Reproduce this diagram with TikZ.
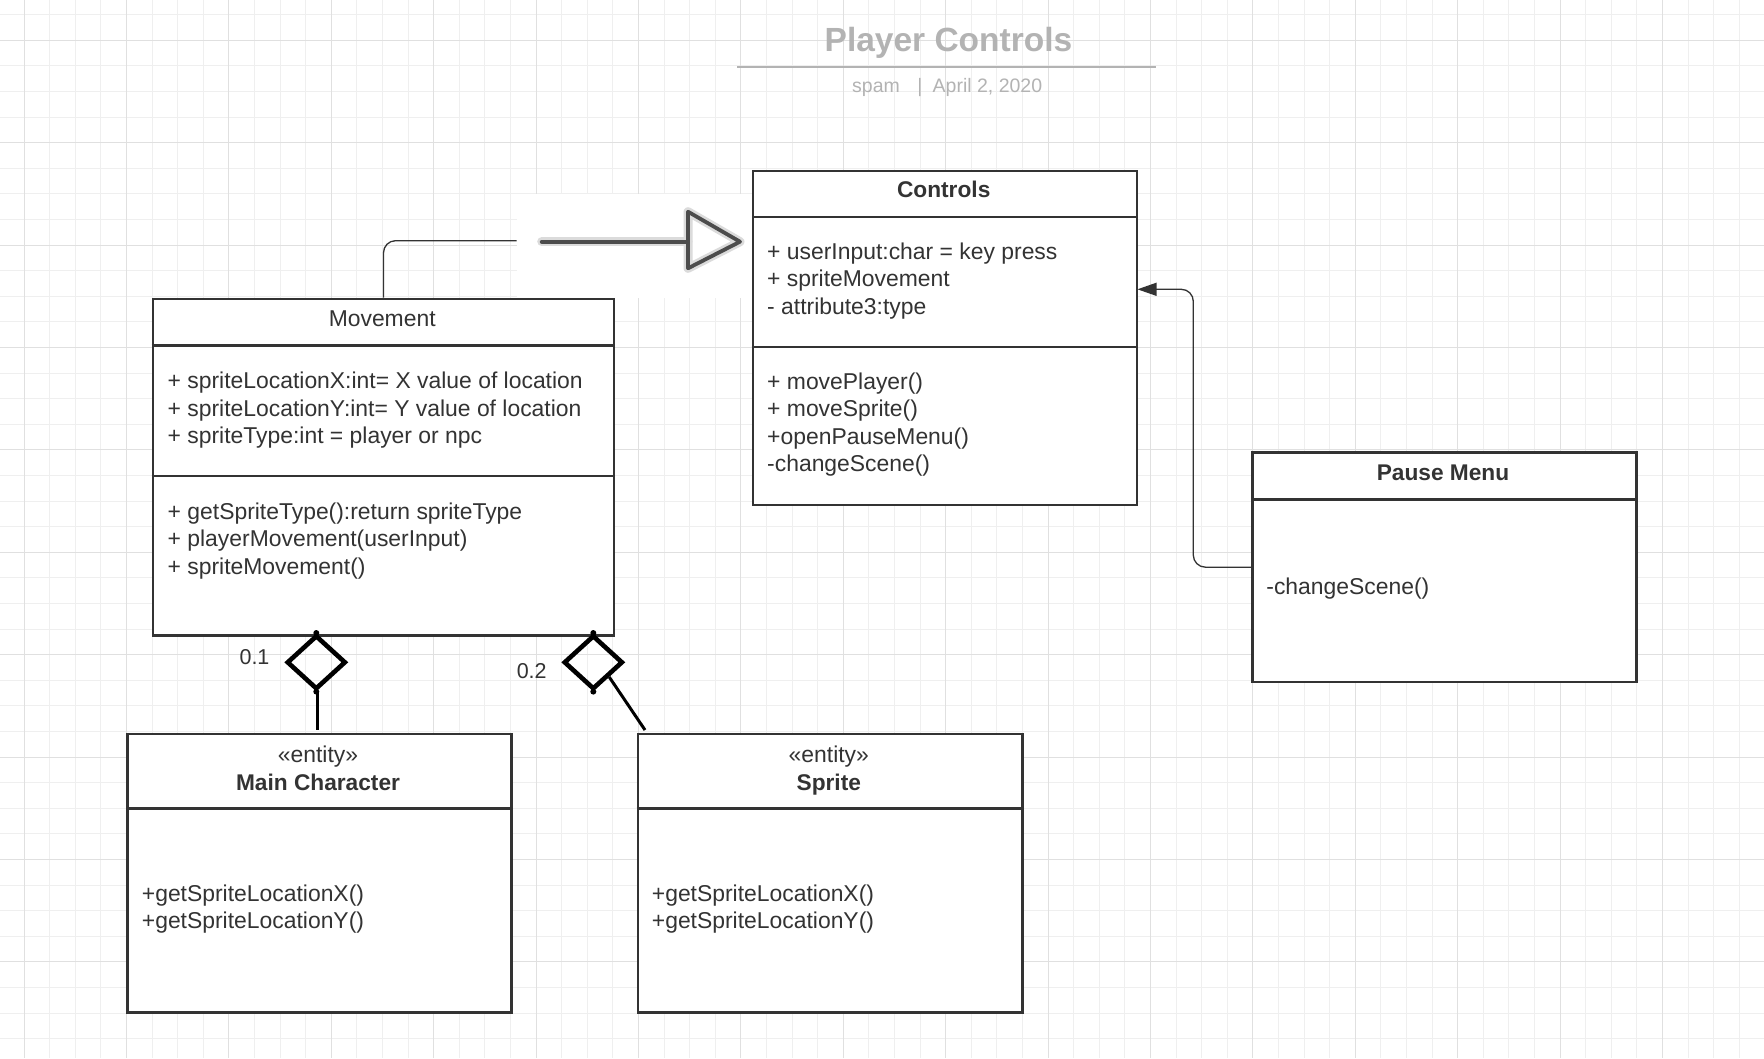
\documentclass[tikz,border=0pt]{standalone}
\usepackage{fontspec}
\setmainfont{Liberation Sans}
\usetikzlibrary{arrows.meta,shapes.geometric}
\definecolor{boxc}{HTML}{333333}
\definecolor{textc}{HTML}{333333}
\definecolor{titlec}{HTML}{B3B3B3}
\definecolor{minorg}{HTML}{EFEFEF}
\definecolor{majorg}{HTML}{E0E0E0}
\tikzset{
  umlbox/.style={draw=boxc, line width=2.6pt, fill=white, inner sep=0pt, anchor=north west},
  divider/.style={draw=boxc, line width=2.4pt},
  txt/.style={anchor=base west, inner sep=0pt, text=textc, font=\fontsize{22.9}{27}\selectfont},
  ttl/.style={anchor=base, inner sep=0pt, text=textc, font=\bfseries\fontsize{22.7}{27}\selectfont},
  ttlplain/.style={anchor=base, inner sep=0pt, text=textc, font=\fontsize{22.9}{27}\selectfont},
  lbl/.style={anchor=base, inner sep=0pt, text=textc, font=\fontsize{21.5}{25}\selectfont},
  conn/.style={draw=boxc, line width=1.3pt},
  aggd/.style={diamond, draw=black, line width=4.6pt, line join=miter, minimum width=59pt, minimum height=54pt, inner sep=0pt},
  aggline/.style={draw=black, line width=3pt},
  minorgrid/.style={draw=minorg, line width=0.9pt},
  majorgrid/.style={draw=majorg, line width=0.9pt},
  subt/.style={inner sep=0pt, text=titlec, font=\fontsize{19.5}{23}\selectfont},
}
\begin{document}
\begin{tikzpicture}[x=1pt,y=-1pt]
\useasboundingbox (0,0) rectangle (1764,1058);
\fill[white] (0,0) rectangle (1764,1058);
% grid
\foreach \i in {-1,...,68} {\draw[minorgrid] ({24+25.6*\i},0) -- ({24+25.6*\i},1058);}
\foreach \j in {-2,...,40} {\draw[minorgrid] (0,{40.3+25.6*\j}) -- (1764,{40.3+25.6*\j});}
\foreach \i in {0,...,17} {\draw[majorgrid] ({24+102.4*\i},0) -- ({24+102.4*\i},1058);}
\foreach \j in {0,...,10} {\draw[majorgrid] (0,{40.3+102.4*\j}) -- (1764,{40.3+102.4*\j});}

% title
\node[anchor=base, inner sep=0pt, text=titlec, font=\bfseries\fontsize{33.5}{40}\selectfont] (title) at (948.5,51) {Player Controls};
\draw[titlec, line width=2pt] (737,66.7) -- (1156,66.7);
\node[subt, anchor=base west] (author) at (852,92.7) {spam};
\node[subt, anchor=base] (sep) at (920,92.7) {|};
\node[subt, anchor=base west] (date) at (932.5,92.7) {April 2, 2020};

% Controls
\node[umlbox, minimum width=384pt, minimum height=334pt] (controls) at (751.7,169.7) {};
\draw[divider] (751.7,216.7) -- (1135.7,216.7);
\draw[divider] (751.7,347) -- (1135.7,347);
\node[ttl] (controlsT) at (943.7,197.7) {Controls};
\node[txt] (c1) at (767,259.3) {+ userInput:char = key press};
\node[txt] (c2) at (767,286.7) {+ spriteMovement};
\node[txt] (c3) at (767,314) {- attribute3:type};
\node[txt] (c4) at (767,389.3) {+ movePlayer()};
\node[txt] (c5) at (767,416.7) {+ moveSprite()};
\node[txt] (c6) at (767,444) {+openPauseMenu()};
\node[txt] (c7) at (767,471.7) {-changeScene()};

% Movement
\node[umlbox, minimum width=461pt, minimum height=336.6pt] (movement) at (151.7,297.7) {};
\draw[divider] (151.7,345.3) -- (612.7,345.3);
\draw[divider] (151.7,476) -- (612.7,476);
\node[ttlplain] (movementT) at (382.2,326.7) {Movement};
\node[txt] (m1) at (167.5,388.7) {+ spriteLocationX:int= X value of location};
\node[txt] (m2) at (167.5,416) {+ spriteLocationY:int= Y value of location};
\node[txt] (m3) at (167.5,443.3) {+ spriteType:int = player or npc};
\node[txt] (m4) at (167.5,519.3) {+ getSpriteType():return spriteType};
\node[txt] (m5) at (167.5,546.7) {+ playerMovement(userInput)};
\node[txt] (m6) at (167.5,574) {+ spriteMovement()};

% Pause Menu
\node[umlbox, minimum width=384pt, minimum height=229.7pt] (pause) at (1251,451) {};
\draw[divider] (1251,499.3) -- (1635,499.3);
\node[ttl] (pauseT) at (1443,480) {Pause Menu};
\node[txt] (p1) at (1266.2,594.3) {-changeScene()};

% Main Character
\node[umlbox, minimum width=384pt, minimum height=278.3pt] (mc) at (126,732.7) {};
\draw[divider] (126,808.3) -- (510,808.3);
\node[ttlplain] (mcS) at (318,762) {«entity»};
\node[ttl] (mcT) at (318,790) {Main Character};
\node[txt] (mc1) at (141.7,901.7) {+getSpriteLocationX()};
\node[txt] (mc2) at (141.7,928.3) {+getSpriteLocationY()};

% Sprite
\node[umlbox, minimum width=384.3pt, minimum height=278.3pt] (sprite) at (636.7,732.7) {};
\draw[divider] (636.7,808.3) -- (1021,808.3);
\node[ttlplain] (spS) at (828.8,762) {«entity»};
\node[ttl] (spT) at (828.8,790) {Sprite};
\node[txt] (sp1) at (651.7,901.7) {+getSpriteLocationX()};
\node[txt] (sp2) at (651.7,928.3) {+getSpriteLocationY()};

% generalization Movement -> Controls (partly covered by a pasted arrow image)
\coordinate (genEnd) at (516.7,240.7);
\draw[conn, rounded corners=12pt] (movement.north) |- (genEnd);
\fill[white] (516.7,194) rectangle (751.7,297.7);
\coordinate (gA) at (541.7,241.7);
\coordinate (gB) at (688,241.7);
\coordinate (gT) at (740,241.7);
\draw[line width=9pt, draw=black!14, line cap=round] (gA) -- (gB);
\draw[line width=9pt, draw=black!14, line join=round] (gB |- 0,211.7) -- (gT) -- (gB |- 0,268.3) -- cycle;
\draw[line width=3.8pt, draw=black!70, line cap=round] (gA) -- (gB);
\draw[line width=3.8pt, draw=black!70, line join=round] (gB |- 0,211.7) -- (gT) -- (gB |- 0,268.3) -- cycle;

% association Pause Menu -> Controls
\coordinate (ctrlIn) at (1137.5,289.3);
\draw[conn, rounded corners=12pt, -{Triangle[length=19pt,width=13pt]}] (pause.west) -- ++(-57.7,0) |- (ctrlIn);

% aggregations
\node[aggd] (d1) at (316.3,662.3) {};
\node[aggd] (d2) at (593.3,662.3) {};
\fill[black] (d1.north) circle (3pt) (d1.south) circle (3pt);
\fill[black] (d2.north) circle (3pt) (d2.south) circle (3pt);
\draw[aggline, shorten >=3pt] (d1.south -| 317.3,0) -- (mc.north -| 317.3,0);
\coordinate (spEnd) at (645,730);
\draw[aggline] (d2.south east) -- (spEnd);
\node[lbl] (l1) at (254.5,664) {0.1};
\node[lbl] (l2) at (531.7,678.3) {0.2};
\end{tikzpicture}
\end{document}
